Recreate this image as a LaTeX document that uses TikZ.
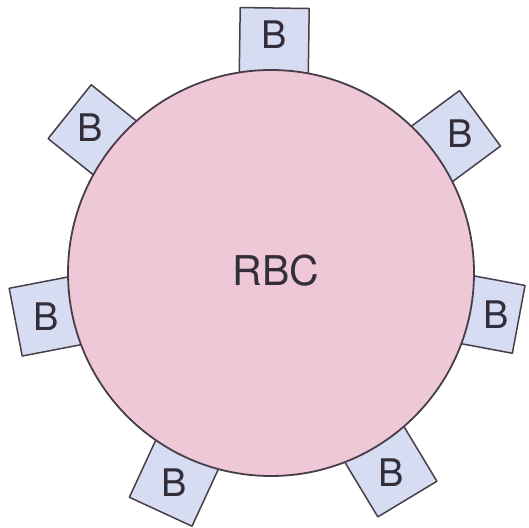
\documentclass[tikz,border=0pt]{standalone}
\usepackage{fontspec}
\setmainfont{TeX Gyre Heros}
\usetikzlibrary{calc}

\definecolor{cellpink}{RGB}{238,200,214}
\definecolor{tabblue}{RGB}{214,220,242}
\definecolor{edgegray}{RGB}{72,62,74}
\definecolor{inkgray}{RGB}{52,46,58}

\begin{document}
\begin{tikzpicture}[
  x=1pt,y=1pt,
  line join=round,
  cell/.style={draw=edgegray,fill=cellpink,line width=1.8pt},
  tab/.style={draw=edgegray,fill=tabblue,line width=1.5pt,
    minimum width=69pt,minimum height=80pt,inner sep=0pt,outer sep=0pt},
  tabtext/.style={text=inkgray,inner sep=0pt,font=\fontsize{38}{40}\selectfont},
  celltext/.style={text=inkgray,inner sep=0pt,font=\fontsize{41}{44}\selectfont}
]
\useasboundingbox (0,0) rectangle (529,527);

\coordinate (C) at (271,254);
\def\rcell{203}

% tabs round the cell (drawn first, the cell hides their inner ends)
\foreach \ang/\rout/\rtxt [count=\i, evaluate=\rout as \rmid using \rout-40] in
  {89.2/265/238, 36.5/260/235, 141.3/258/232, 190.9/260/229,
   349.4/252/229, 245.2/263/231, 301.1/264/233}{
  \node[tab,rotate=\ang-90] (tab\i) at ($(C)+(\ang:\rmid)$) {};
  \node[tabtext] (b\i) at ($(C)+(\ang:\rtxt)$) {B};
}

% the cell
\draw[cell] (C) circle [radius=\rcell];
\node[celltext] (rbc) at ($(C)+(5,2)$) {RBC};

\end{tikzpicture}
\end{document}
